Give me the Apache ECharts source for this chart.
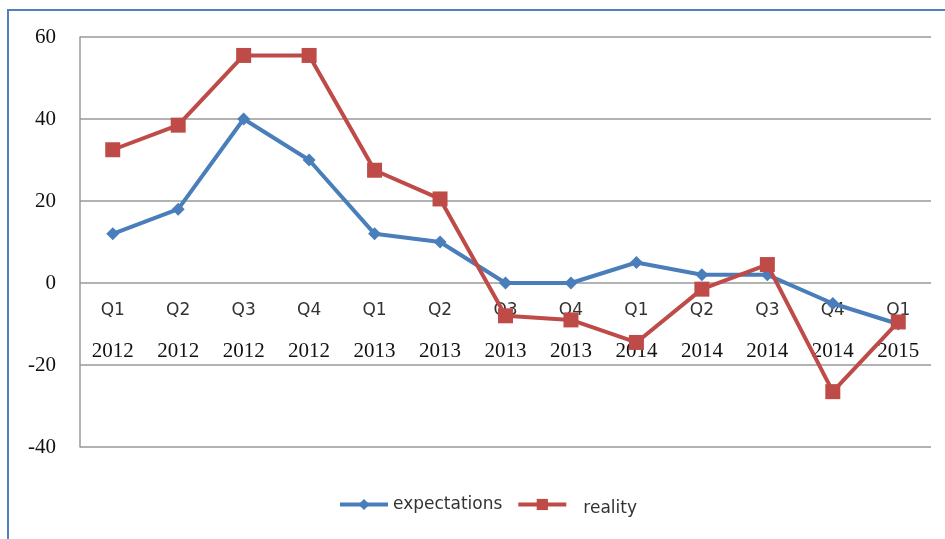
<!DOCTYPE html>
<html><head><meta charset="utf-8">
<script src="https://cdn.jsdelivr.net/npm/echarts@6/dist/echarts.min.js"></script>
<style>
html,body{margin:0;padding:0;background:#fff;}
#frame{position:absolute;left:7px;top:9px;width:945px;height:540px;border-left:2px solid #4f81bd;border-top:2px solid #4f81bd;}
#c{position:absolute;left:0;top:0;width:945px;height:539px;}
</style></head>
<body>
<div id="frame"></div>
<div id="c"></div>
<script>
const quarters = ['Q1','Q2','Q3','Q4','Q1','Q2','Q3','Q4','Q1','Q2','Q3','Q4','Q1'];
const years = ['2012','2012','2012','2012','2013','2013','2013','2013','2014','2014','2014','2014','2015'];
const expectations = [12, 18, 40, 30, 12, 10, 0, 0, 5, 2, 2, -5, -10];
const reality = [32.5, 38.5, 55.5, 55.5, 27.5, 20.5, -8, -9, -14.5, -1.5, 4.5, -26.5, -9.5];
const yTicks = [-40, -20, 0, 20, 40, 60];

const categories = quarters.map((q, i) => q + '\n' + years[i]);
const chart = echarts.init(document.getElementById('c'));
chart.setOption({
  animation: false,
  backgroundColor: 'transparent',
  grid: {left: 80, right: 14, top: 37, bottom: 92, containLabel: false},
  legend: {
    bottom: 17, left: 333,
    itemWidth: 48, itemHeight: 14, itemGap: 14,
    lineStyle: {width: 4},
    textStyle: {fontFamily: 'DejaVu Sans', fontSize: 17, color: '#333',
      rich: {r: {fontFamily: 'DejaVu Sans', fontSize: 17, color: '#333', padding: [8, 0, 0, 12]}}},
    formatter: (name) => name === 'reality' ? '{r|' + name + '}' : name,
    data: [{name: 'expectations'}, {name: 'reality'}]
  },
  xAxis: {
    type: 'category', data: categories, boundaryGap: true,
    position: 'bottom', offset: -164,
    axisLine: {show: false, onZero: false},
    axisTick: {show: false},
    axisLabel: {
      margin: 8, interval: 0,
      formatter: (v) => { const p = v.split('\n'); return '{q|' + p[0] + '}\n{y|' + p[1] + '}'; },
      rich: {
        q: {fontFamily: 'DejaVu Sans', fontSize: 17, color: '#333', lineHeight: 40},
        y: {fontFamily: 'Liberation Serif', fontSize: 21, color: '#111', lineHeight: 40}
      }
    }
  },
  yAxis: {
    type: 'value', min: -40, max: 60, interval: 20,
    axisLine: {show: true, lineStyle: {color: '#999', width: 1.5}},
    axisTick: {show: false},
    axisLabel: {margin: 24, fontFamily: 'Liberation Serif', fontSize: 21, color: '#111',
      formatter: (v) => yTicks.includes(v) ? String(v) : ''},
    splitLine: {lineStyle: {color: '#999', width: 1.5}}
  },
  series: [
    {name: 'expectations', type: 'line', data: expectations,
     symbol: 'diamond', symbolSize: 13,
     lineStyle: {color: '#4a7ebb', width: 4},
     itemStyle: {color: '#4a7ebb'}, z: 2},
    {name: 'reality', type: 'line', data: reality,
     symbol: 'rect', symbolSize: 15,
     lineStyle: {color: '#be4b48', width: 4},
     itemStyle: {color: '#be4b48'}, z: 3}
  ]
});
</script>
</body></html>
